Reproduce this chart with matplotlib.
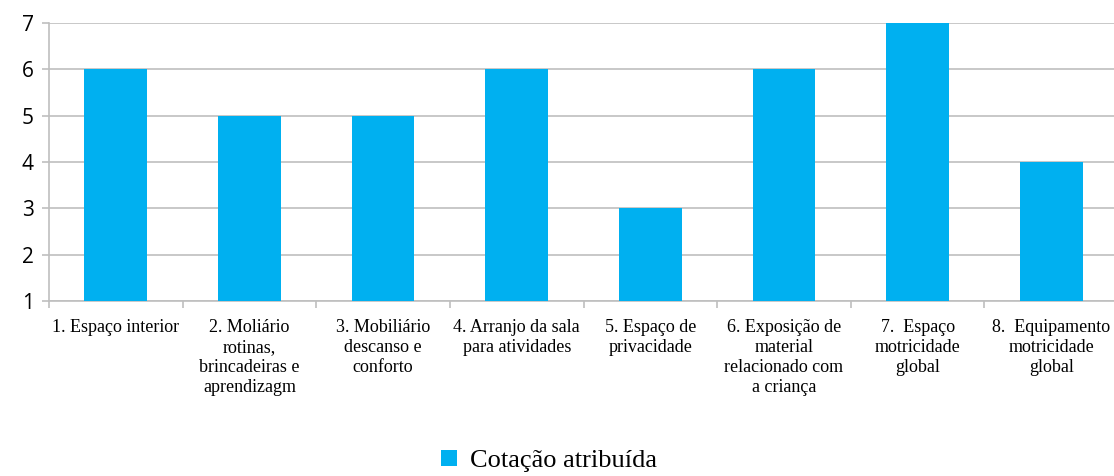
import matplotlib
matplotlib.use("Agg")
import matplotlib.pyplot as plt
import numpy as np
from matplotlib.ticker import FixedLocator

# ── Data ──────────────────────────────────────────────────────────────────
categories = [
    "1. Espaço interior",
    "2. Moliário\nrotinas,\nbrincadeiras e\naprendizagm",
    "3. Mobiliário\ndescanso e\nconforto",
    "4. Arranjo da sala\npara atividades",
    "5. Espaço de\nprivacidade",
    "6. Exposição de\nmaterial\nrelacionado com\na criança",
    "7.  Espaço\nmotricidade\nglobal",
    "8.  Equipamento\nmotricidade\nglobal",
]
values = [6, 5, 5, 6, 3, 6, 7, 4]
series_name = "Cotação atribuída"
y_ticks = [1, 2, 3, 4, 5, 6, 7]

BAR_COLOR = "#00B0F0"
GRID_COLOR = "#BFBFBF"
SERIF = ["Liberation Serif", "DejaVu Serif"]

fig = plt.figure(figsize=(11.14, 4.76), dpi=100)
ax = fig.add_axes([49 / 1114, 1 - 301 / 476, 1 - 49 / 1114, (301 - 23) / 476])

x = np.arange(len(categories))
ax.bar(x, [v - 1 for v in values], bottom=1, width=0.47, color=BAR_COLOR,
       label=series_name, zorder=3)

ax.set_ylim(1, 7)
ax.set_xlim(-0.5, 7.47)
ax.set_yticks(y_ticks)
ax.yaxis.grid(True, color=GRID_COLOR, linewidth=1.2, zorder=0)

# category labels centred, tick marks on category boundaries
ax.set_xticks(x)
ax.set_xticklabels(categories, fontfamily=SERIF, fontsize=13,
                   va="top", ha="center", linespacing=1.22)
ax.tick_params(axis="x", which="major", length=0, pad=13)
ax.xaxis.set_minor_locator(FixedLocator(np.arange(-0.5, 8, 1.0)))
ax.tick_params(axis="x", which="minor", length=5, color=GRID_COLOR, width=1.2)

for lbl in ax.get_yticklabels():
    lbl.set_fontfamily(["Open Sans", "DejaVu Sans"])
    lbl.set_fontsize(15)
ax.tick_params(axis="y", length=5, color=GRID_COLOR, width=1.2, pad=6)

for side in ["top", "right"]:
    ax.spines[side].set_visible(False)
for side in ["left", "bottom"]:
    ax.spines[side].set_color(GRID_COLOR)
    ax.spines[side].set_linewidth(1.2)

fig.legend(loc="center", bbox_to_anchor=(0.493, 1 - 461 / 476), frameon=False,
           prop={"family": SERIF, "size": 19}, handlelength=0.6,
           handleheight=0.6, handletextpad=0.5)

fig.savefig("out.png", dpi=100)
